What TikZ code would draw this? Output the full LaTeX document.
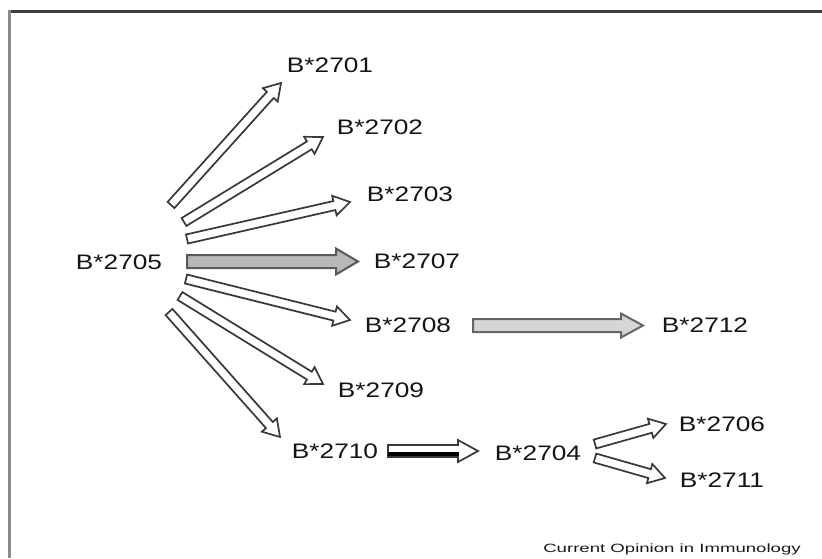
\documentclass[tikz,border=0pt]{standalone}
\usepackage{fontspec}
\setmainfont[FakeStretch=1.25]{Liberation Sans}
\newfontfamily\footfont[FakeStretch=1.55]{Liberation Sans}
\usetikzlibrary{calc}
% #1 style, #2 tail, #3 tip, #4 half shaft, #5 half head, #6 head length
\newcommand{\fatarr}[6]{%
  \coordinate (fa-h) at ($(#3)!#6!(#2)$);
  \draw[#1] ($(#2)!#4!90:(#3)$) -- ($(fa-h)!#4!-90:(#2)$) -- ($(fa-h)!#5!-90:(#2)$)
    -- (#3) -- ($(fa-h)!#5!90:(#2)$) -- ($(fa-h)!#4!90:(#2)$) -- ($(#2)!#4!-90:(#3)$) -- cycle;}
\tikzset{
  hollow/.style={draw=black!78, line width=1.7pt, fill=white, line join=miter},
  grayarr/.style={draw=black!65, line width=2pt, fill=black!28, line join=miter},
  lightarr/.style={draw=black!60, line width=2pt, fill=black!16, line join=miter},
  lbl/.style={font=\fontsize{21}{24}\selectfont, inner sep=0pt, text=black!92},
  foot/.style={font=\footfont\fontsize{12}{14}\selectfont, inner sep=0pt, text=black!90},
}
\begin{document}
\begin{tikzpicture}[x=1pt, y=-1pt]
\useasboundingbox (0,0) rectangle (822,558);
% frame
\draw[line width=3pt, black!75] (8,11) -- (822,11);
\draw[line width=3pt, black!45] (9,10) -- (9,558);

% labels
\node[lbl] (n2705) at (119,262) {B*2705};
\node[lbl] (n2701) at (330,65) {B*2701};
\node[lbl] (n2702) at (380,127) {B*2702};
\node[lbl] (n2703) at (410,194) {B*2703};
\node[lbl] (n2707) at (417,261) {B*2707};
\node[lbl] (n2708) at (408,325) {B*2708};
\node[lbl] (n2712) at (705,325) {B*2712};
\node[lbl] (n2709) at (381,390) {B*2709};
\node[lbl] (n2710) at (335,451) {B*2710};
\node[lbl] (n2704) at (538,453) {B*2704};
\node[lbl] (n2706) at (722,424) {B*2706};
\node[lbl] (n2711) at (722,480) {B*2711};
\node[foot] (cap) at (672,549) {Current Opinion in Immunology};

% arrow end points
\coordinate (t01) at (171,205); \coordinate (h01) at (281,83);
\coordinate (t02) at (184,222); \coordinate (h02) at (323,137);
\coordinate (t03) at (187,239); \coordinate (h03) at (350,202);
\coordinate (t07) at (187,261.5); \coordinate (h07) at (358,261.5);
\coordinate (t08) at (186,279); \coordinate (h08) at (350,320);
\coordinate (t09) at (180,296); \coordinate (h09) at (323,384);
\coordinate (t10) at (169,312); \coordinate (h10) at (280,437);
\coordinate (t12) at (473,325.5); \coordinate (h12) at (643,325.5);
\coordinate (t04) at (388,451); \coordinate (h04) at (478,451);
\coordinate (t06) at (595,444); \coordinate (h06) at (666,424);
\coordinate (t11) at (595,458); \coordinate (h11) at (665,478);

% arrows
\fatarr{hollow}{t01}{h01}{4.6pt}{10pt}{16pt}
\fatarr{hollow}{t02}{h02}{4.6pt}{10pt}{16pt}
\fatarr{hollow}{t03}{h03}{4.6pt}{10pt}{16pt}
\fatarr{grayarr}{t07}{h07}{6.5pt}{13pt}{22pt}
\fatarr{hollow}{t08}{h08}{4.6pt}{10pt}{16pt}
\fatarr{hollow}{t09}{h09}{4.6pt}{10pt}{16pt}
\fatarr{hollow}{t10}{h10}{4.6pt}{10pt}{16pt}
\fatarr{lightarr}{t12}{h12}{6.5pt}{12pt}{22pt}
\fatarr{hollow}{t04}{h04}{6pt}{11pt}{20pt}
\draw[line width=4pt, black] ($(t04)!2.6pt!-90:(h04)$) -- ($($(h04)!19pt!(t04)$)!2.6pt!90:(t04)$);
\fatarr{hollow}{t06}{h06}{4.6pt}{10pt}{16pt}
\fatarr{hollow}{t11}{h11}{4.6pt}{10pt}{16pt}
\end{tikzpicture}
\end{document}
